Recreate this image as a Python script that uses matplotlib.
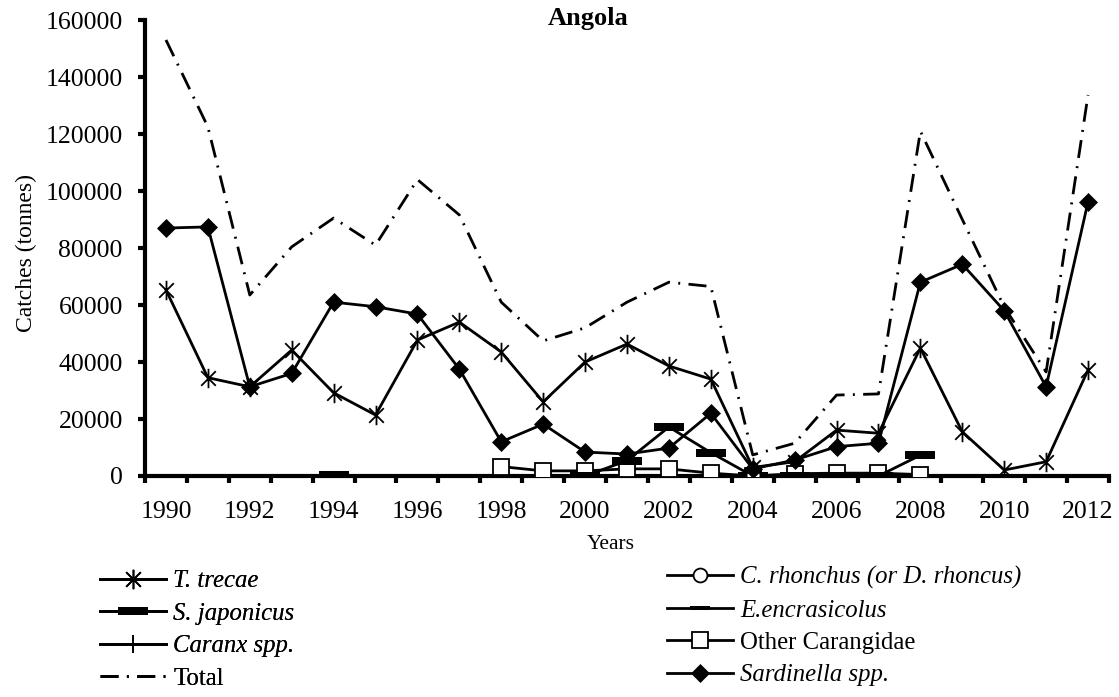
import numpy as np
import matplotlib
matplotlib.use("Agg")
import matplotlib.pyplot as plt
from matplotlib.path import Path
from matplotlib.ticker import FixedLocator

plt.rcParams['font.family'] = ['Liberation Serif', 'DejaVu Serif']

years = list(range(1990, 2013))
nan = np.nan

t_trecae = [65300, 34500, 31300, 44200, 29200, 21400, 47700, 54000, 43500, 26000,
            40000, 46300, 38600, 34000, 3000, 5000, 16100, 15000, 44900, 15500,
            2100, 5000, 37200]
sardinella = [87000, 87400, 31300, 36000, 61000, 59400, 56800, 37500, 12000, 18200,
              8400, 7700, 9800, 22000, 2500, 5600, 10300, 11500, 68000, 74300,
              58000, 31300, 96200]
total = [153000, 122500, 63500, 80400, 90500, 81000, 104000, 91600, 61000, 47400,
         52000, 61000, 68000, 66500, 7400, 11500, 28400, 28800, 121000, 90000,
         59300, 36500, 133700]
s_japonicus = [nan, nan, nan, nan, 400, nan, nan, nan, nan, nan,
               0, 5400, 17200, 8200, 0, 0, 0, 0, 7300, nan,
               nan, nan, nan]
other_carangidae = [nan, nan, nan, nan, nan, nan, nan, nan, 3300, 1800,
                    1800, 2500, 2500, 1000, 0, 800, 1000, 1000, 500, nan,
                    nan, nan, nan]
e_encrasicolus = [nan, nan, nan, nan, nan, nan, nan, nan, 0, 0,
                  0, 0, 0, 0, 0, 0, 0, 0, 0, nan,
                  nan, nan, nan]
caranx = [nan, nan, nan, nan, nan, nan, nan, nan, 0, 0,
          0, 0, 0, 0, 0, 0, 0, 0, 0, nan,
          nan, nan, nan]
c_rhonchus = [nan, nan, nan, nan, nan, nan, nan, nan, nan, nan,
              nan, nan, nan, nan, 200, nan, nan, nan, nan, nan,
              nan, nan, nan]

W, H = 1119, 697
fig = plt.figure(figsize=(W / 100, H / 100), dpi=100)
ax_left, ax_right, ax_top, ax_bot = 145, 1109, 20, 476
ax = fig.add_axes([ax_left / W, 1 - ax_bot / H, (ax_right - ax_left) / W, (ax_bot - ax_top) / H])

# custom markers
star_path = Path([(0, -1), (0, 1), (-0.75, -0.75), (0.75, 0.75), (-0.75, 0.75), (0.75, -0.75)],
                 [Path.MOVETO, Path.LINETO, Path.MOVETO, Path.LINETO, Path.MOVETO, Path.LINETO])
dash_big = [(-1.6, -0.45), (1.6, -0.45), (1.6, 0.45), (-1.6, 0.45), (-1.6, -0.45)]
dash_small = [(-1.6, -0.3), (1.6, -0.3), (1.6, 0.3), (-1.6, 0.3), (-1.6, -0.3)]

lw = 2.0
x = np.array(years)

h_trecae, = ax.plot(x, t_trecae, color='black', lw=lw, marker=star_path, markersize=14,
                    markeredgewidth=1.3, markerfacecolor='none', label='T. trecae', zorder=4)
h_caranx, = ax.plot(x, caranx, color='black', lw=lw, marker='+', markersize=13,
                    markeredgewidth=1.2, label='Caranx spp.', zorder=3)
h_enc, = ax.plot(x, e_encrasicolus, color='black', lw=lw, marker=dash_small, markersize=14,
                 markeredgewidth=0, label='E.encrasicolus', zorder=3)
h_crh, = ax.plot(x, c_rhonchus, color='black', lw=lw, marker='o', markersize=10,
                 markerfacecolor='white', markeredgewidth=1.3, label='C. rhonchus (or D. rhoncus)', zorder=5)
h_other, = ax.plot(x, other_carangidae, color='black', lw=lw, marker='s', markersize=11,
                   markerfacecolor='white', markeredgewidth=1.3, label='Other Carangidae', zorder=4)
h_sjap, = ax.plot(x, s_japonicus, color='black', lw=lw, marker=dash_big, markersize=22,
                  markeredgewidth=0, label='S. japonicus', zorder=4)
h_sard, = ax.plot(x, sardinella, color='black', lw=lw, marker='D', markersize=9.5,
                  markeredgewidth=0.5, label='Sardinella spp.', zorder=6)
h_total, = ax.plot(x, total, color='black', lw=2.0, linestyle=(0, (6.5, 3.0, 0.7, 3.0)),
                   label='Total', zorder=2)

ax.set_xlim(1989.5, 2012.5)
ax.set_ylim(0, 160000)
for s in ['top', 'right']:
    ax.spines[s].set_visible(False)
for s in ['left', 'bottom']:
    ax.spines[s].set_linewidth(3)
    ax.spines[s].set_zorder(1)

ax.set_yticks(np.arange(0, 160001, 20000))
ax.tick_params(axis='y', direction='out', length=5, width=3, labelsize=18.5, pad=11)
ax.set_xticks(years[::2])
ax.xaxis.set_minor_locator(FixedLocator(np.arange(1989.5, 2012.6, 1.0)))
ax.tick_params(axis='x', which='major', length=0, labelsize=18.5, pad=18)
ax.tick_params(axis='x', which='minor', direction='out', length=5, width=3)

ax.set_ylabel('Catches (tonnes)', fontsize=17)
ax.yaxis.set_label_coords(-0.112, 0.49)
ax.set_xlabel('Years', fontsize=15.5)
ax.xaxis.set_label_coords((611 - ax_left) / (ax_right - ax_left), (ax_bot - 535) / (ax_bot - ax_top))
fig.text(548 / W, 1 - 19 / H, 'Angola', fontsize=19, fontweight='bold', ha='left', va='center')

italic_labels = {'T. trecae', 'S. japonicus', 'Caranx spp.', 'C. rhonchus (or D. rhoncus)',
                 'E.encrasicolus', 'Sardinella spp.'}

def make_legend(handles, xpx, ypx):
    leg = fig.legend(handles=handles, loc='upper left', bbox_to_anchor=(xpx / W, 1 - ypx / H),
                     frameon=False, fontsize=17.8, handlelength=2.67, labelspacing=0.41,
                     handletextpad=0.3, borderaxespad=0, borderpad=0)
    for t in leg.get_texts():
        if t.get_text() in italic_labels:
            t.set_fontstyle('italic')
    return leg

leg1 = make_legend([h_trecae, h_sjap, h_caranx, h_total], 100, 570)
make_legend([h_crh, h_enc, h_other, h_sard], 667, 566)
fig.add_artist(leg1)

fig.savefig('out.png', dpi=100)
